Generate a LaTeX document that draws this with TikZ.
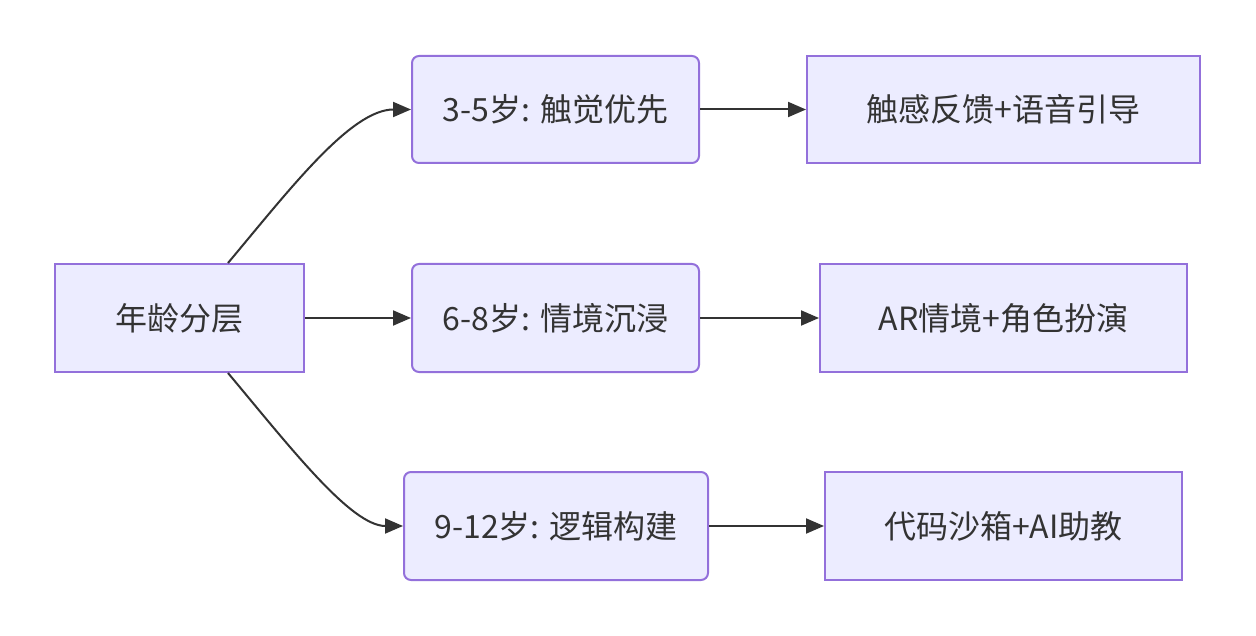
\documentclass[tikz,border=0pt]{standalone}
\usepackage{fontspec}
\setmainfont{Noto Sans CJK SC}
\usetikzlibrary{arrows.meta,calc}
\definecolor{nodefill}{HTML}{ECECFF}
\definecolor{nodeline}{HTML}{9370DB}
\definecolor{ink}{HTML}{333333}
\tikzset{
  box/.style={draw=nodeline, fill=nodefill, line width=2pt, text=ink,
    font=\fontsize{32}{38}\selectfont, inner sep=0pt, anchor=center},
  rbox/.style={box, rounded corners=7pt},
  link/.style={draw=ink, line width=2pt, -{Triangle[length=18pt,width=15pt]}}
}
\begin{document}
\begin{tikzpicture}[x=1pt,y=-1pt]
\useasboundingbox (0,0) rectangle (1256,636);
\node[box, minimum width=249pt, minimum height=108pt] (root) at (179.5,318) {年龄分层};
\node[rbox, minimum width=287pt, minimum height=107pt] (a1) at (555.5,109.5) {3-5岁: 触觉优先};
\node[rbox, minimum width=287pt, minimum height=108pt] (a2) at (555.5,318) {6-8岁: 情境沉浸};
\node[rbox, minimum width=304pt, minimum height=108pt] (a3) at (556,526) {9-12岁: 逻辑构建};
\node[box, minimum width=393pt, minimum height=107pt] (b1) at (1003.5,109.5) {触感反馈+语音引导};
\node[box, minimum width=367pt, minimum height=108pt] (b2) at (1003.5,318) {AR情境+角色扮演};
\node[box, minimum width=357pt, minimum height=108pt] (b3) at (1003.5,526) {代码沙箱+AI助教};
\coordinate (rt) at ([xshift=48.5pt]root.north);
\coordinate (rb) at ([xshift=48.5pt]root.south);
\draw[link] (rt) .. controls ($(rt)+(62,-74)$) and ($(a1.west)+(-60,0)$) .. (a1.west);
\draw[link] (rb) .. controls ($(rb)+(62,74)$) and ($(a3.west)+(-52,0)$) .. (a3.west);
\draw[link] (root.east) -- (a2.west);
\draw[link] (a1.east) -- (b1.west);
\draw[link] (a2.east) -- (b2.west);
\draw[link] (a3.east) -- (b3.west);
\end{tikzpicture}
\end{document}
